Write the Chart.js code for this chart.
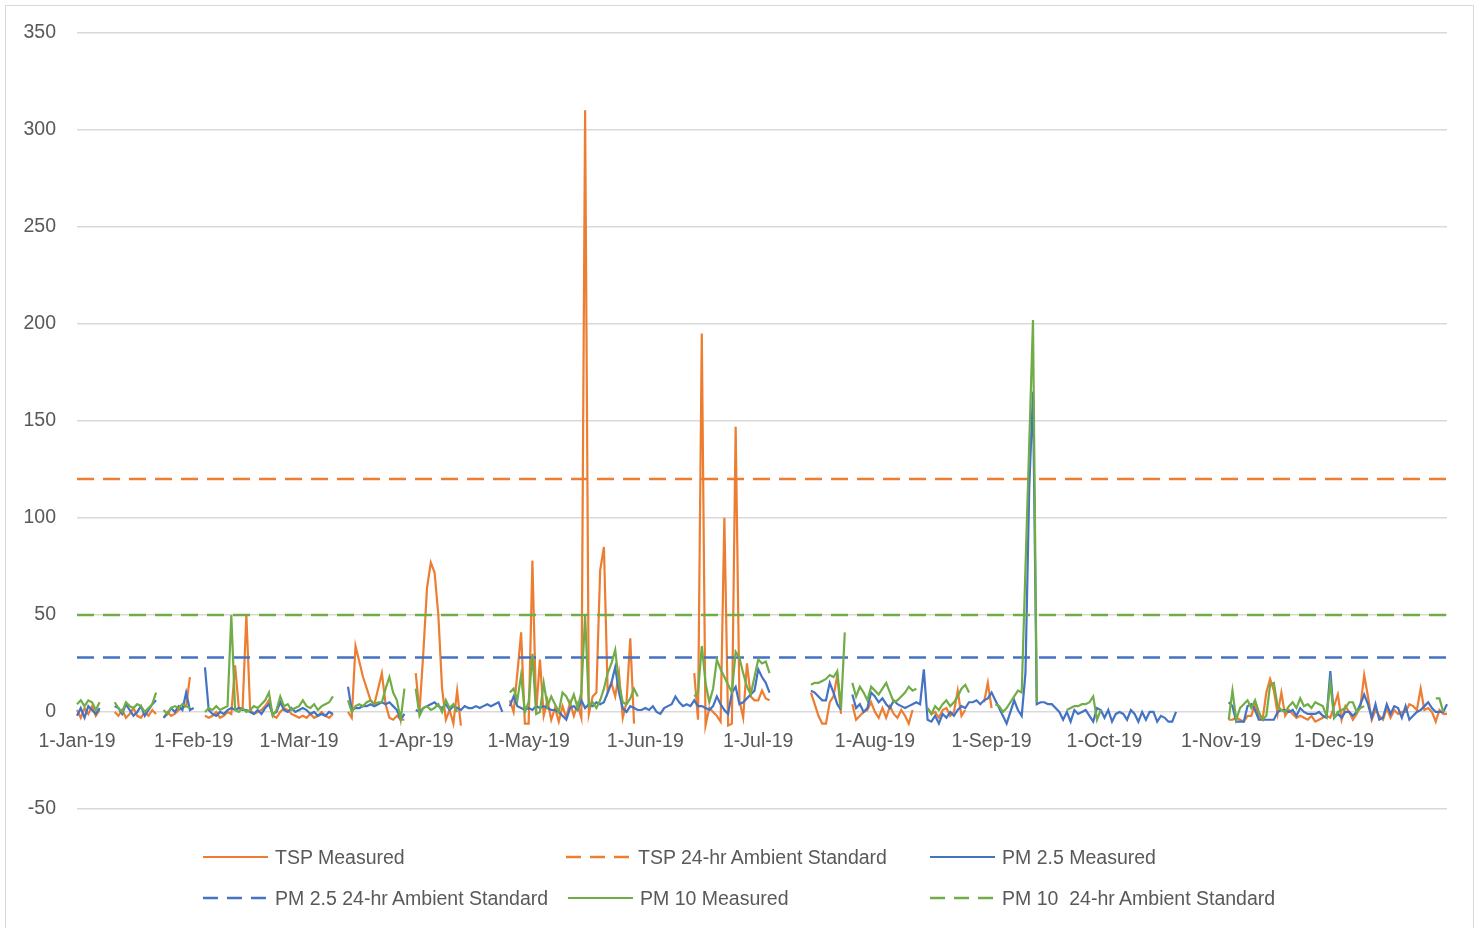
<!DOCTYPE html>
<html>
<head>
<meta charset="utf-8">
<script src="https://cdn.jsdelivr.net/npm/chart.js@4.4.1/dist/chart.umd.min.js"></script>
<style>
  html, body { margin: 0; padding: 0; background: #fff; }
  #wrap { position: relative; width: 1481px; height: 928px; overflow: hidden; }
  #frame { position: absolute; left: 5px; top: 5px; width: 1469px; height: 940px; border: 1.5px solid #d9d9d9; box-sizing: border-box; }
  #chart { position: absolute; left: 0; top: 0; }
  #legend { position: absolute; left: 0; top: 0; font-family: "Liberation Sans", Arial, sans-serif; font-size: 19.5px; color: #595959; }
  .item { position: absolute; height: 24px; line-height: 24px; display: flex; align-items: center; white-space: pre; }
  .item svg { margin-right: 7px; }
</style>
</head>
<body>
<div id="wrap">
  <div id="frame"></div>
  <canvas id="chart" width="1481" height="928"></canvas>
  <div id="legend"></div>
</div>
<script>
const _ = null;

// tick labels shown on the x axis (first day of every month)
const monthTicks = ["1-Jan-19", "1-Feb-19", "1-Mar-19", "1-Apr-19", "1-May-19", "1-Jun-19",
  "1-Jul-19", "1-Aug-19", "1-Sep-19", "1-Oct-19", "1-Nov-19", "1-Dec-19"];
const monthNames = ["Jan", "Feb", "Mar", "Apr", "May", "Jun", "Jul", "Aug", "Sep", "Oct", "Nov", "Dec"];

// daily categories for 2019
const days = [];
for (let m = 0; m < 12; m++) {
  const n = new Date(2019, m + 1, 0).getDate();
  for (let d = 1; d <= n; d++) days.push(d + "-" + monthNames[m] + "-19");
}

// standards
const tspStandard = 120;
const pm25Standard = 28;
const pm10Standard = 50;

// measured values, one row per month
const tspMeasured = [
  [1,-3,2,-1,3,-2,1,_,_,_, 0,-2,1,-3,-1,2,-2,-3,0,-2, 1,-1,_,-3,0,-2,-1,1,2,3, 18],
  [_,_,_,-2,-3,-2,0,-3,-2,0, -1,24,2,2,50,1,-1,0,1,3, 6,-2,-3,0,2,1,-1,-2],
  [-3,-2,-3,-1,-3,-2,0,-2,-3,-1, _,_,_,0,-3,34,26,18,12,6, 4,12,20,4,-3,-4,-2,-4,-4,_, _],
  [20,0,30,64,77,72,50,12,-4,1, -6,11,-7,_,_,_,_,_,_,_, _,_,_,_,_,6,0,20,41,-6],
  [-6,78,0,27,-2,6,-4,2,-5,3, -3,5,-2,4,-3,310,-1,8,10,73, 85,10,15,8,20,-3,5,38,-6,_, _],
  [_,_,_,_,_,_,_,_,_,_, _,_,_,20,-4,195,-7,2,0,-2, -5,100,-7,-6,147,6,-3,25,8,6],
  [6,11,7,6,_,_,_,_,_,_, _,_,_,_,10,4,-2,-6,-6,5, 8,19,-1,_,_,4,-4,-2,0,1, 5],
  [0,-3,2,-3,3,-1,-3,1,-2,-6, 1,_,_,_,2,-1,0,-3,1,2, -2,0,11,-2,1,_,_,_,_,5, 15],
  [2,_,_,_,_,_,_,_,_,_, _,_,_,_,_,_,_,_,_,_, _,_,_,_,_,_,_,_,_,_],
  [_,_,_,_,_,_,_,_,_,_, _,_,_,_,_,_,_,_,_,_, _,_,_,_,_,_,_,_,_,_, _],
  [_,_,-4,-4,-3,-4,-5,-2,-2,4, -2,-4,10,17,11,-1,10,-2,1,-1, -3,-2,-3,-4,-2,-5,-4,-3,-2,-3],
  [3,9,-4,3,0,-4,-1,3,19,8, -4,1,-2,-4,2,-3,1,-1,0,0, 4,3,1,12,1,2,0,-5,1,-1, -1]
].flat();

const pm25Measured = [
  [-2,2,-3,3,1,-1,2,_,_,_, 3,2,-1,4,1,-2,0,3,-2,1, 4,6,_,-3,-1,2,0,3,1,10, 1],
  [2,_,_,23,1,-1,-2,0,-1,1, 2,1,2,1,1,0,-1,1,-1,2, 4,-1,0,5,1,0,2,0],
  [1,2,1,-1,0,-2,-1,-2,0,-1, _,_,_,13,1,2,2,3,3,4, 3,4,5,4,5,3,1,-4,-1,_, _],
  [1,0,2,3,4,5,3,2,4,1, 3,2,1,3,2,2,3,2,3,4, 3,4,5,0,_,3,8,3,2,1],
  [2,1,3,2,3,2,1,1,0,-2, -4,2,3,1,6,2,4,3,5,4, 5,10,15,23,10,2,0,3,2,1, 1],
  [2,1,3,0,-1,2,3,4,8,5, 3,4,3,6,3,3,2,1,3,8, 4,1,-1,10,13,4,5,7,9,11],
  [22,18,15,10,_,_,_,_,_,_, _,_,_,_,11,10,8,6,6,15, 10,4,1,_,_,9,2,4,0,2, 10],
  [8,5,7,4,2,6,4,3,2,3, 4,5,4,22,-4,-5,-2,-6,-1,-3, 0,-2,1,3,2,5,5,6,4,6, 7],
  [10,6,2,-2,-6,0,6,1,-2,20, 115,165,4,5,5,4,4,2,0,-4, 0,-5,1,-1,0,1,-2,-5,2,1],
  [-3,1,-5,-1,0,-1,-4,1,-1,-5, 0,-4,0,0,-5,-2,-3,-5,-5,0, _,_,_,_,_,_,_,_,_,_, _],
  [_,_,5,3,-5,-5,-5,3,4,1, -4,-4,-4,-4,-4,0,1,1,0,1, -2,2,0,-1,-1,-1,0,-2,-3,21],
  [-3,-1,-3,0,0,-2,0,4,9,4, -3,4,-4,-3,4,-1,3,2,-3,3, -4,-2,0,1,3,5,2,0,0,0, 4]
].flat();

const pm10Measured = [
  [4,6,3,6,5,1,5,_,_,_, 5,2,0,5,3,2,4,3,0,2, 4,10,_,1,-1,2,3,2,4,3, 2],
  [_,_,_,0,2,1,3,1,2,3, 50,1,0,2,0,1,3,2,4,6, 10,-2,1,8,3,4,1,2],
  [3,6,3,2,4,1,3,4,5,8, _,_,_,6,0,3,4,3,5,6, 4,5,5,12,18,10,6,-4,12,_, _],
  [12,-2,2,3,1,2,4,0,6,2, 4,0,_,_,_,_,_,_,_,_, _,_,_,_,_,10,12,6,19,0],
  [5,30,-1,0,15,3,8,4,0,10, 8,4,9,2,10,50,3,5,2,6, 12,20,25,32,15,5,4,7,12,8, _],
  [_,_,_,_,_,_,_,_,_,_, _,_,_,8,10,34,15,5,12,27, 22,18,14,10,31,28,20,13,9,18],
  [27,25,26,20,_,_,_,_,_,_, _,_,_,_,14,15,15,16,17,19, 18,21,2,41,_,15,8,13,10,6, 13],
  [11,9,12,15,10,5,6,8,10,13, 11,12,_,_,2,-1,3,1,4,6, 3,5,8,12,14,10,_,_,_,_, _],
  [_,4,3,0,2,5,8,11,10,74, 138,202,5,_,_,_,_,_,_,_, 1,2,3,3,4,4,5,8,-4,1],
  [_,_,_,_,_,_,_,_,_,_, _,_,_,_,_,_,_,_,_,_, _,_,_,_,_,_,_,_,_,_, _],
  [_,_,-4,11,-4,2,4,6,2,6, 0,-4,-2,14,15,3,1,0,3,5, 2,7,3,4,2,5,4,3,-2,15],
  [-3,0,1,2,5,5,0,2,3,_, _,_,_,_,_,_,_,_,_,_, _,_,_,_,_,_,_,7,7,0, _]
].flat();

const orange = "#ED7D31";
const blue = "#4472C4";
const green = "#70AD47";
const textColor = "#595959";
const fontFamily = "'Liberation Sans', Arial, sans-serif";

function line(label, data, color, dashed, order) {
  return {
    label: label,
    data: data,
    borderColor: color,
    backgroundColor: color,
    borderWidth: dashed ? 2.5 : 2.2,
    borderDash: dashed ? [17, 9] : [],
    pointRadius: 0,
    tension: 0,
    spanGaps: false,
    order: order
  };
}

const datasets = [
  line("TSP Measured", tspMeasured, orange, false, 6),
  line("TSP 24-hr Ambient Standard", days.map(() => tspStandard), orange, true, 5),
  line("PM 2.5 Measured", pm25Measured, blue, false, 4),
  line("PM 2.5 24-hr Ambient Standard", days.map(() => pm25Standard), blue, true, 3),
  line("PM 10 Measured", pm10Measured, green, false, 2),
  line("PM 10  24-hr Ambient Standard", days.map(() => pm10Standard), green, true, 1)
];

new Chart(document.getElementById("chart"), {
  type: "line",
  data: { labels: days, datasets: datasets },
  options: {
    responsive: false,
    animation: false,
    layout: { padding: { left: 0, top: 32, right: 34, bottom: 119 } },
    plugins: { legend: { display: false }, tooltip: { enabled: false } },
    scales: {
      x: {
        position: { y: 0 },
        grid: { display: false, drawTicks: false },
        border: { display: false },
        ticks: {
          autoSkip: false,
          maxRotation: 0,
          padding: 18,
          color: textColor,
          font: { family: fontFamily, size: 19.5 }
        },
        afterBuildTicks: (s) => {
          s.ticks = s.ticks.filter(t => monthTicks.includes(days[t.value]));
        }
      },
      y: {
        min: -50,
        max: 350,
        ticks: {
          stepSize: 50,
          padding: 21,
          color: textColor,
          font: { family: fontFamily, size: 19.5 }
        },
        grid: { color: "#d9d9d9", lineWidth: 1.5, drawTicks: false },
        border: { display: false },
        afterFit: (s) => { s.width = 77; }
      }
    }
  }
});

// legend laid out in Excel's three-column grid
const legendPos = [[203, 857], [566, 857], [930, 857], [203, 898], [568, 898], [930, 898]];
const legend = document.getElementById("legend");
datasets.forEach((ds, i) => {
  const item = document.createElement("div");
  item.className = "item";
  item.style.left = legendPos[i][0] + "px";
  item.style.top = (legendPos[i][1] - 12) + "px";
  const dash = ds.borderDash.length ? 'stroke-dasharray="15 9"' : "";
  item.innerHTML = '<svg width="65" height="6"><line x1="0" y1="3" x2="65" y2="3" stroke="' +
    ds.borderColor + '" stroke-width="' + ds.borderWidth + '" ' + dash + '/></svg>';
  item.appendChild(document.createTextNode(ds.label));
  legend.appendChild(item);
});
</script>
</body>
</html>
